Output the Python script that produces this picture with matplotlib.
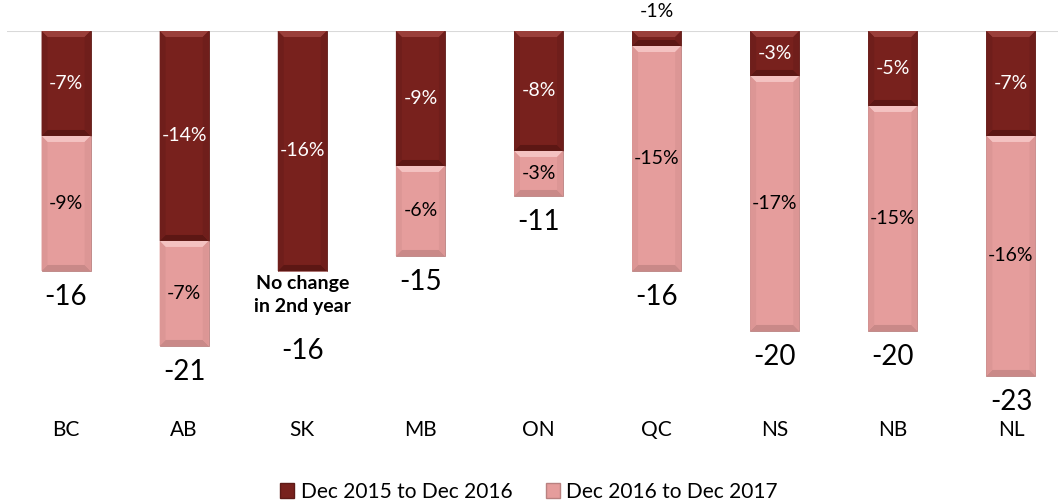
import matplotlib.pyplot as plt
from matplotlib.patches import Polygon, Patch

# Data
provinces = ["BC", "AB", "SK", "MB", "ON", "QC", "NS", "NB", "NL"]
first_year = [-7, -14, -16, -9, -8, -1, -3, -5, -7]    # Dec 2015 to Dec 2016
second_year = [-9, -7, 0, -6, -3, -15, -17, -15, -16]  # Dec 2016 to Dec 2017
totals = [-16, -21, -16, -15, -11, -16, -20, -20, -23]
series_names = ["Dec 2015 to Dec 2016", "Dec 2016 to Dec 2017"]

dark = "#78211D"
pink = "#E59D9C"
# (top bevel, bottom bevel, sides)
bevel = {dark: ("#9A3F3A", "#5C1714", "#6F1E1B"),
         pink: ("#F4C2C1", "#C98988", "#DC9695")}

plt.rcParams['font.family'] = ['Lato', 'DejaVu Sans']

fig = plt.figure(figsize=(10.58, 5.03), dpi=100)
ax = fig.add_axes([7 / 1058, 1 - 410 / 503, 1063 / 1058, 379 / 503])

x = range(len(provinces))
width = 0.415
b1 = ax.bar(x, first_year, width, color=dark, edgecolor="#5E1A17", linewidth=0.6, zorder=2)
b2 = ax.bar(x, second_year, width, bottom=first_year, color=pink, edgecolor="#B98180",
            linewidth=0.6, zorder=2)

ax.set_xlim(-0.5, len(provinces) - 0.5)
ax.set_ylim(-25.27, 0)

# bevel look: derived from each bar's rectangle
dx, dy = 0.05, 0.4
for bars, base in ((b1, dark), (b2, pink)):
    c_top, c_bot, c_side = bevel[base]
    for p in bars:
        x0, y0 = p.get_x(), p.get_y()
        w, h = p.get_width(), p.get_height()
        if h == 0:
            continue
        top, bot = max(y0, y0 + h), min(y0, y0 + h)
        d = min(dy, (top - bot) / 2)
        ax.add_patch(Polygon([(x0, top), (x0 + w, top), (x0 + w - dx, top - d), (x0 + dx, top - d)],
                             color=c_top, lw=0, zorder=3))
        ax.add_patch(Polygon([(x0, bot), (x0 + w, bot), (x0 + w - dx, bot + d), (x0 + dx, bot + d)],
                             color=c_bot, lw=0, zorder=3))
        ax.add_patch(Polygon([(x0, top), (x0 + dx, top - d), (x0 + dx, bot + d), (x0, bot)],
                             color=c_side, lw=0, zorder=3))
        ax.add_patch(Polygon([(x0 + w, top), (x0 + w - dx, top - d), (x0 + w - dx, bot + d), (x0 + w, bot)],
                             color=c_side, lw=0, zorder=3))

ax.axhline(0, color="#D9D9D9", lw=1.5, zorder=1)

# segment labels
for i, (a, b, t) in enumerate(zip(first_year, second_year, totals)):
    if a <= -2:
        ax.text(i, a / 2, f"{a}%", ha="center", va="center", color="white", fontsize=14, zorder=4)
    else:
        ax.text(i, 1.3, f"{a}%", ha="center", va="center", color="black", fontsize=14,
                clip_on=False, zorder=4)
    if b != 0:
        ax.text(i, a + b / 2, f"{b}%", ha="center", va="center", color="black", fontsize=14, zorder=4)
        ax.text(i, t - 1.75, f"{t}", ha="center", va="center", fontsize=20, zorder=4)
    else:
        ax.text(i, t - 0.3, "No change\nin 2nd year", ha="center", va="top", fontsize=14,
                fontweight="bold", linespacing=1.4, zorder=4)
        ax.text(i, t - 5.35, f"{t}", ha="center", va="center", fontsize=20, zorder=4)

ax.set_xticks(list(x))
ax.set_xticklabels(provinces, fontsize=15)
ax.tick_params(axis="x", length=0, pad=7)
ax.set_yticks([])
for s in ax.spines.values():
    s.set_visible(False)

handles = [Patch(facecolor=dark, edgecolor="#5E1A17"), Patch(facecolor=pink, edgecolor="#B98180")]
fig.legend(handles, series_names, loc="lower center", bbox_to_anchor=(0.5, -0.035), ncol=2,
           frameon=False, fontsize=15, handlelength=0.7, handleheight=0.7, handletextpad=0.3,
           columnspacing=1.6)

fig.savefig("out.png", dpi=100)
